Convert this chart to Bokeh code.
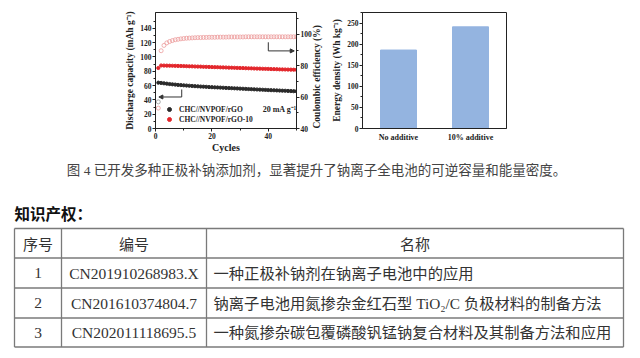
import math
from bokeh.plotting import figure
from bokeh.models import (Range1d, LinearAxis, FixedTicker, Legend, LegendItem,
                          Label, Arrow, NormalHead, FactorRange)
from bokeh.layouts import column, row
from bokeh.embed import file_html
from bokeh.resources import INLINE
from bokeh.core.properties import value

SERIF = "Liberation Serif"
CJK = "Noto Sans CJK SC"
MIX = "Liberation Serif, Noto Sans CJK SC"

# ---------------- data ----------------
cap_rgo = [64.0, 63.6, 63.1, 62.6, 62.1, 61.7, 61.3, 60.9, 60.6, 60.3,
           60.0, 59.7, 59.4, 59.1, 58.9, 58.6, 58.4, 58.2, 57.9, 57.7,
           57.5, 57.3, 57.1, 56.9, 56.7, 56.5, 56.3, 56.1, 55.9, 55.7,
           55.5, 55.3, 55.1, 54.9, 54.7, 54.5, 54.3, 54.1, 53.9, 53.7,
           53.5, 53.4, 53.2, 53.0, 52.8, 52.7, 52.5, 52.3, 52.1, 52.0]
cap_rgo10 = [84.5, 88.0, 87.9, 87.8, 87.7, 87.6, 87.5, 87.4, 87.3, 87.2,
             87.0, 86.9, 86.8, 86.6, 86.5, 86.4, 86.2, 86.1, 86.0, 85.8,
             85.7, 85.6, 85.4, 85.3, 85.2, 85.0, 84.9, 84.8, 84.6, 84.5,
             84.4, 84.2, 84.1, 84.0, 83.8, 83.7, 83.6, 83.4, 83.3, 83.2,
             83.0, 82.9, 82.8, 82.6, 82.5, 82.4, 82.3, 82.2, 82.1, 82.0]
ce_rgo10 = [53.0, 89.6, 93.0, 94.6, 95.5, 96.1, 96.6, 96.9, 97.2, 97.4,
            97.6, 97.7, 97.8, 97.9, 98.0, 98.0, 98.1, 98.1, 98.2, 98.2,
            98.2, 98.3, 98.3, 98.3, 98.3, 98.4, 98.4, 98.4, 98.4, 98.4,
            98.4, 98.5, 98.5, 98.5, 98.5, 98.5, 98.5, 98.5, 98.5, 98.5,
            98.5, 98.5, 98.5, 98.5, 98.5, 98.5, 98.5, 98.5, 98.5, 98.5]
ce_rgo_cycle = [1]
ce_rgo = [57.0]
cycles = list(range(1, len(cap_rgo) + 1))

legend_labels = ["CHC//NVPOF/rGO", "CHC//NVPOF/rGO-10"]
rate_label = "20 mA g\u207b\u00b9"
ce_axis_title = "Coulombic efficiency (%)"

cap_ticks = [0, 20, 40, 60, 80, 100, 120, 140]
ce_ticks = [40, 60, 80, 100]
cycle_ticks = [0, 20, 40]

bar_cats = ["No additive", "10% additive"]
bar_vals = [186, 241]
energy_ticks = [0, 50, 100, 150, 200, 250]

caption = "图 4 已开发多种正极补钠添加剂，显著提升了钠离子全电池的可逆容量和能量密度。"
heading = "知识产权："
table_header = ["序号", "编号", "名称"]
row_nums = ["1", "2", "3"]
patent_ids = ["CN201910268983.X", "CN201610374804.7", "CN202011118695.5"]
patent_names = ["一种正极补钠剂在钠离子电池中的应用",
                "钠离子电池用氮掺杂金红石型 TiO\u2082/C 负极材料的制备方法",
                "一种氮掺杂碳包覆磷酸钒锰钠复合材料及其制备方法和应用"]


def style_axis(ax, label_size="9.5px"):
    ax.axis_label_text_font = SERIF
    ax.axis_label_text_font_style = "bold"
    ax.axis_label_text_font_size = label_size
    ax.axis_label_standoff = 2
    ax.major_label_text_font = SERIF
    ax.major_label_text_font_style = "bold"
    ax.major_label_text_font_size = "7.5px"
    ax.major_label_standoff = 1
    ax.major_tick_in = 0
    ax.major_tick_out = 3
    ax.minor_tick_in = 0
    ax.minor_tick_out = 2
    ax.axis_line_color = "#222"
    ax.major_tick_line_color = "#222"
    ax.minor_tick_line_color = "#222"
    ax.major_label_text_color = "#222"
    ax.axis_label_text_color = "#222"


# ---------------- chart A ----------------
pA = figure(width=329, height=155, x_range=Range1d(0, 50), y_range=Range1d(0, 162),
            output_backend="svg", toolbar_location=None,
            min_border_left=155, min_border_right=26, min_border_top=3, min_border_bottom=27)
pA.extra_y_ranges = {"ce": Range1d(40, 114)}
pA.grid.visible = False
pA.outline_line_color = "#222"
pA.background_fill_color = "white"
pA.border_fill_color = "white"

pA.xaxis.ticker = FixedTicker(ticks=cycle_ticks, minor_ticks=[10, 30, 50])
pA.xaxis.axis_label = "Cycles"
pA.yaxis.ticker = FixedTicker(ticks=cap_ticks, minor_ticks=[10, 30, 50, 70, 90, 110, 130, 150])
pA.yaxis.axis_label = "Discharge capacity (mAh g\u207b\u00b9)"
ax_r = LinearAxis(y_range_name="ce", axis_label=ce_axis_title,
                  ticker=FixedTicker(ticks=ce_ticks, minor_ticks=[50, 70, 90, 110]))
pA.add_layout(ax_r, "right")
for ax in [pA.xaxis[0], pA.yaxis[0], ax_r]:
    style_axis(ax)
# read bottom-to-top (like the left axis), starting at the bottom of the frame
ax_r.axis_label_orientation = math.pi / 2
ax_r.axis_label_align = "start"
pA.xaxis[0].axis_label_text_font_size = "10px"
pA.xaxis[0].axis_label_standoff = 0

pA.scatter(ce_rgo_cycle, ce_rgo, y_range_name="ce", size=4, fill_color=None,
           line_color="#9a9a9a", line_width=0.8)
pA.scatter(cycles, ce_rgo10, y_range_name="ce", size=4, fill_color=None,
           line_color="#ec9c9c", line_width=0.8)
r_black = pA.scatter(cycles, cap_rgo, size=3.2, color="#2a2a2a")
r_red = pA.scatter(cycles, cap_rgo10, size=3.2, color="#e3262b")

leg = Legend(items=[LegendItem(label=legend_labels[0], renderers=[r_black]),
                    LegendItem(label=legend_labels[1], renderers=[r_red])],
             location=(9, 4), background_fill_alpha=0, border_line_color=None,
             padding=0, margin=0, spacing=0, label_height=10, glyph_height=10,
             glyph_width=10, label_standoff=5, label_text_font=SERIF,
             label_text_font_style="bold", label_text_font_size="7.5px",
             label_text_color="#222")
pA.add_layout(leg)

pA.add_layout(Label(x=38, y=27, text=rate_label, text_font=SERIF, text_font_style="bold",
                    text_font_size="8px", text_baseline="middle", text_color="#222"))

# arrows pointing to axes
arrow_l_x = [9.3, 1.2]
arrow_l_y = [54.5, 44.0]
pA.add_layout(Arrow(end=None, x_start=arrow_l_x[0], y_start=arrow_l_y[0],
                    x_end=arrow_l_x[0], y_end=arrow_l_y[1], line_color="#333", line_width=1))
pA.add_layout(Arrow(end=NormalHead(size=4, fill_color="#333", line_color="#333"),
                    x_start=arrow_l_x[0], y_start=arrow_l_y[1],
                    x_end=arrow_l_x[1], y_end=arrow_l_y[1], line_color="#333", line_width=1))
arrow_r_x = [40.0, 49.2]
arrow_r_y = [95.0, 89.5]
pA.add_layout(Arrow(end=None, x_start=arrow_r_x[0], y_start=arrow_r_y[0],
                    x_end=arrow_r_x[0], y_end=arrow_r_y[1], y_range_name="ce",
                    line_color="#333", line_width=1))
pA.add_layout(Arrow(end=NormalHead(size=4, fill_color="#333", line_color="#333"),
                    x_start=arrow_r_x[0], y_start=arrow_r_y[1],
                    x_end=arrow_r_x[1], y_end=arrow_r_y[1], y_range_name="ce",
                    line_color="#333", line_width=1))

# ---------------- chart B ----------------
pB = figure(width=311, height=155, x_range=FactorRange(factors=bar_cats, range_padding=0),
            y_range=Range1d(0, 275), output_backend="svg", toolbar_location=None,
            min_border_left=32, min_border_right=134, min_border_top=12, min_border_bottom=26)
pB.grid.visible = False
pB.outline_line_color = "#222"
pB.vbar(x=bar_cats, top=bar_vals, width=0.5, color="#94b4e0")
pB.yaxis.ticker = FixedTicker(ticks=energy_ticks, minor_ticks=[25, 75, 125, 175, 225, 275])
pB.yaxis.axis_label = "Energy density (Wh kg\u207b\u00b9)"
for ax in [pB.xaxis[0], pB.yaxis[0]]:
    style_axis(ax)
pB.xaxis[0].major_tick_out = 0
pB.xaxis[0].major_label_standoff = 4
pB.xaxis[0].major_label_text_font_size = "8px"

# ---------------- caption + table ----------------
pC = figure(width=640, height=203, x_range=Range1d(0, 640), y_range=Range1d(358, 155),
            x_axis_type=None, y_axis_type=None, output_backend="svg", toolbar_location=None,
            min_border=0)
pC.grid.visible = False
pC.outline_line_color = None

pC.text(x=[316], y=[170], text=[caption], text_align="center", text_baseline="middle",
        text_font=value(MIX), text_font_size="13.5px", text_color="#444")
pC.text(x=[14], y=[212], text=[heading], text_align="left", text_baseline="middle",
        text_font=value(CJK), text_font_style="bold", text_font_size="15.5px", text_color="#111")

col_edges = [14, 61, 206, 623]
row_edges = [228, 257.5, 287.5, 317.5, 346.5]
pC.segment(x0=[col_edges[0]] * len(row_edges), x1=[col_edges[-1]] * len(row_edges),
           y0=row_edges, y1=row_edges, line_color="#7a7a7a", line_width=1.3)
pC.segment(x0=col_edges, x1=col_edges, y0=[row_edges[0]] * len(col_edges),
           y1=[row_edges[-1]] * len(col_edges), line_color="#7a7a7a", line_width=1.3)

col_mid = [(col_edges[i] + col_edges[i + 1]) / 2 for i in range(3)]
row_mid = [(row_edges[i] + row_edges[i + 1]) / 2 for i in range(4)]

pC.text(x=col_mid, y=[row_mid[0]] * 3, text=table_header, text_align="center",
        text_baseline="middle", text_font=value(CJK), text_font_size="15px", text_color="#333")
pC.text(x=[col_mid[0]] * 3, y=row_mid[1:], text=row_nums, text_align="center",
        text_baseline="middle", text_font=value(SERIF), text_font_size="15.5px", text_color="#333")
pC.text(x=[col_mid[1]] * 3, y=row_mid[1:], text=patent_ids, text_align="center",
        text_baseline="middle", text_font=value(SERIF), text_font_size="15.5px", text_color="#333")
pC.text(x=[col_edges[2] + 7] * 3, y=row_mid[1:], text=patent_names, text_align="left",
        text_baseline="middle", text_font=value(MIX), text_font_size="15.3px", text_color="#333")

layout = column(row(pA, pB), pC)
open("out.html", "w").write(file_html(layout, INLINE))
